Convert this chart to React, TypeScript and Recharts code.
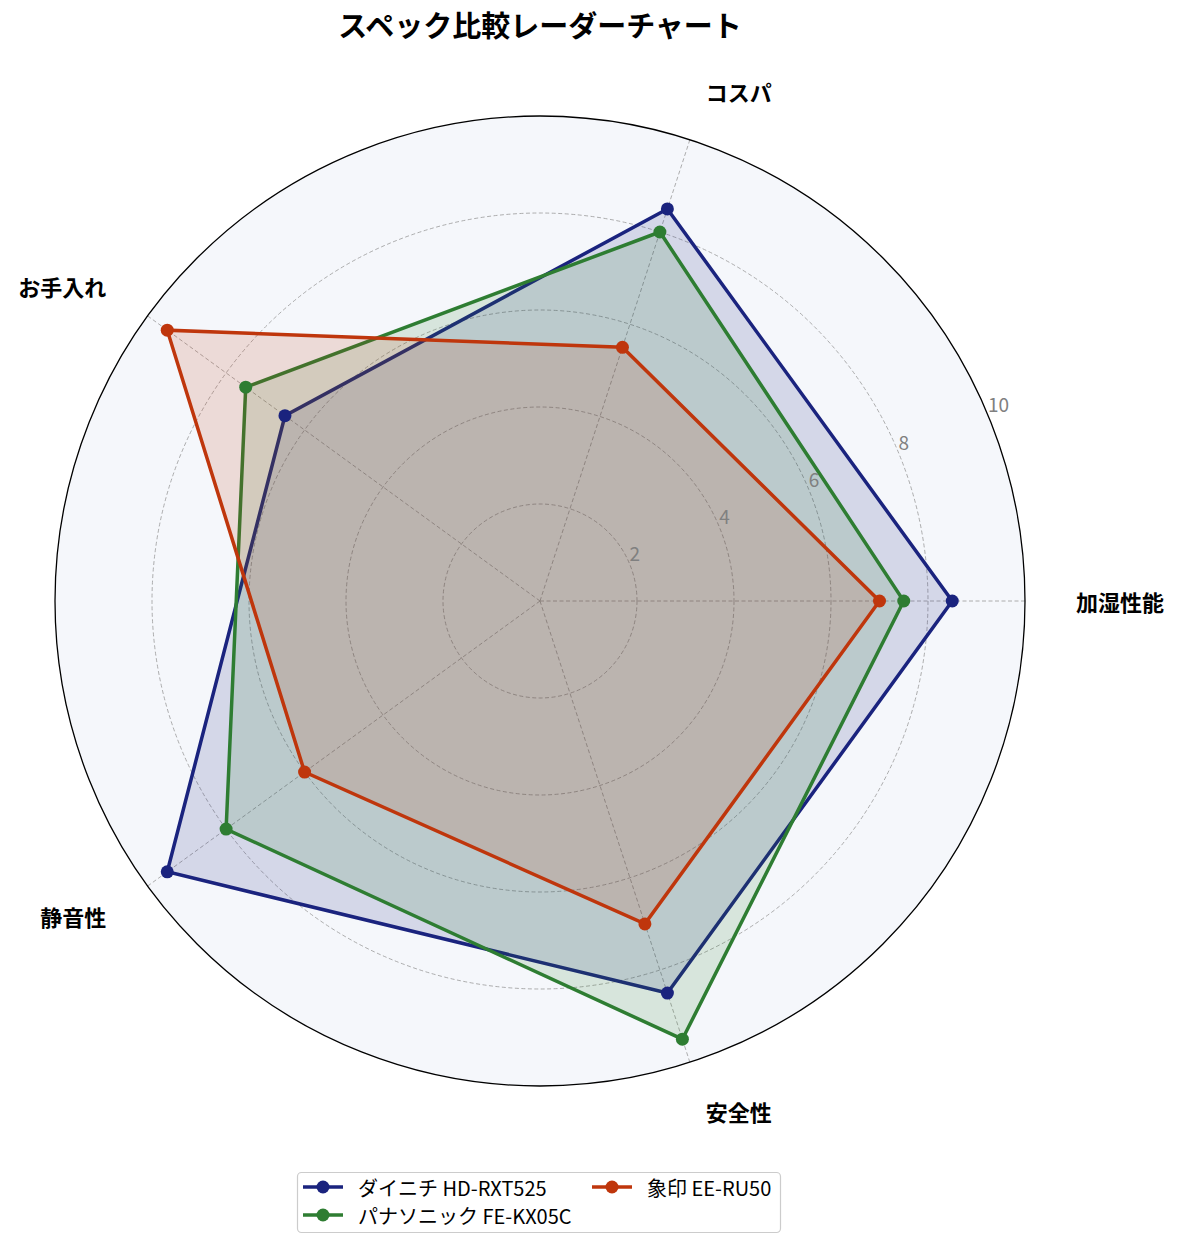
import { RadarChart, Radar, PolarGrid, PolarAngleAxis, PolarRadiusAxis } from "recharts";

const categories = ["加湿性能", "コスパ", "お手入れ", "静音性", "安全性"];
const dainichi = [8.5, 8.5, 6.5, 9.5, 8.5];
const panasonic = [7.5, 8.0, 7.5, 8.0, 9.5];
const zojirushi = [7.0, 5.5, 9.5, 6.0, 7.0];
const radialTicks = [0, 2, 4, 6, 8, 10];

const seriesKeys = ["dainichi", "panasonic", "zojirushi"];
const seriesNames = ["ダイニチ HD-RXT525", "パナソニック FE-KX05C", "象印 EE-RU50"];
const seriesColors = ["#1a237e", "#2e7d32", "#bf360c"];

const title = "スペック比較レーダーチャート";

// the reference goes counter-clockwise from the right; Recharts runs clockwise,
// so the table lists the categories as 0, 4, 3, 2, 1
const displayOrder = [0, 4, 3, 2, 1];
const data = displayOrder.map((i) => ({
  subject: categories[i],
  dainichi: dainichi[i],
  panasonic: panasonic[i],
  zojirushi: zojirushi[i],
}));

const FONT = "'Noto Sans CJK JP', 'Noto Sans', sans-serif";
const W = 1181;
const H = 1249;
const CX = 540;
const CY = 601;
const R = 485;

function AngleTick(props: any) {
  const { payload } = props;
  const ang = (payload.coordinate * Math.PI) / 180;
  const r = R + 51;
  const x = CX + r * Math.cos(ang);
  const y = CY - r * Math.sin(ang);
  const c = Math.cos(ang);
  const anchor = Math.abs(c) < 0.05 ? "middle" : c > 0 ? "start" : "end";
  return (
    <text
      x={x}
      y={y}
      textAnchor={anchor}
      dominantBaseline="central"
      fontSize={22}
      fontWeight={700}
      fill="#000"
      fontFamily={FONT}
    >
      {payload.value}
    </text>
  );
}

function RadiusTick(props: any) {
  const { x, y, payload } = props;
  if (payload.value === 0) return null;
  return (
    <text x={x} y={y - 3} textAnchor="start" fontSize={19} fill="#808080" fontFamily={FONT}>
      {payload.value}
    </text>
  );
}

// legend layout (two columns, column-major like matplotlib ncol=2)
const legendCols = [303, 592];
const legendRows = [1187, 1215];

export default function App() {
  const innerRadii = radialTicks.filter((t) => t > 0 && t < 10).map((t) => (t / 10) * R);
  return (
    <div style={{ position: "absolute", left: 0, top: 0, width: W, height: H, background: "#fff" }}>
      <div
        style={{
          position: "absolute",
          left: CX - R,
          top: CY - R,
          width: R * 2,
          height: R * 2,
          borderRadius: "50%",
          background: "#f5f7fb",
        }}
      />
      <div style={{ position: "absolute", left: 0, top: 0 }}>
        <RadarChart
          width={W}
          height={H}
          data={data}
          cx={CX}
          cy={CY}
          outerRadius={R}
          startAngle={0}
          endAngle={-360}
          margin={{ top: 0, right: 0, bottom: 0, left: 0 }}
        >
          <PolarGrid
            gridType="circle"
            polarRadius={innerRadii}
            stroke="#999999"
            strokeWidth={0.8}
            strokeDasharray="4 2.5"
          />
          <PolarGrid gridType="circle" polarRadius={[R]} radialLines={false} stroke="#000" strokeWidth={1.3} />
          <PolarAngleAxis dataKey="subject" tick={<AngleTick />} axisLine={false} tickLine={false} />
          <PolarRadiusAxis
            angle={22.5}
            type="number"
            domain={[0, 10]}
            tickCount={radialTicks.length}
            axisLine={false}
            tickLine={false}
            tick={<RadiusTick />}
          />
          {seriesKeys.map((k, i) => (
            <Radar
              key={k}
              name={seriesNames[i]}
              dataKey={k}
              stroke={seriesColors[i]}
              strokeWidth={3.5}
              fill={seriesColors[i]}
              fillOpacity={0.15}
              dot={{ r: 6.5, fill: seriesColors[i], fillOpacity: 1, stroke: "none" }}
              isAnimationActive={false}
            />
          ))}
        </RadarChart>
      </div>
      <svg
        width={W}
        height={H}
        style={{ position: "absolute", left: 0, top: 0, pointerEvents: "none" }}
      >
        <text x={CX} y={37} textAnchor="middle" fontSize={29} fontWeight={700} fill="#000" fontFamily={FONT}>
          {title}
        </text>
        <rect x={297.5} y={1172.5} width={483} height={60} rx={4} fill="#fff" stroke="#cccccc" strokeWidth={1.2} />
        {seriesNames.map((name, i) => {
          const col = Math.floor(i / 2);
          const row = i % 2;
          const x0 = legendCols[col];
          const y0 = legendRows[row];
          return (
            <g key={name}>
              <line x1={x0} x2={x0 + 40} y1={y0} y2={y0} stroke={seriesColors[i]} strokeWidth={3.5} />
              <circle cx={x0 + 20} cy={y0} r={6.5} fill={seriesColors[i]} />
              <text
                x={x0 + 55}
                y={y0}
                dominantBaseline="central"
                fontSize={20}
                fill="#000"
                fontFamily={FONT}
              >
                {name}
              </text>
            </g>
          );
        })}
      </svg>
    </div>
  );
}
